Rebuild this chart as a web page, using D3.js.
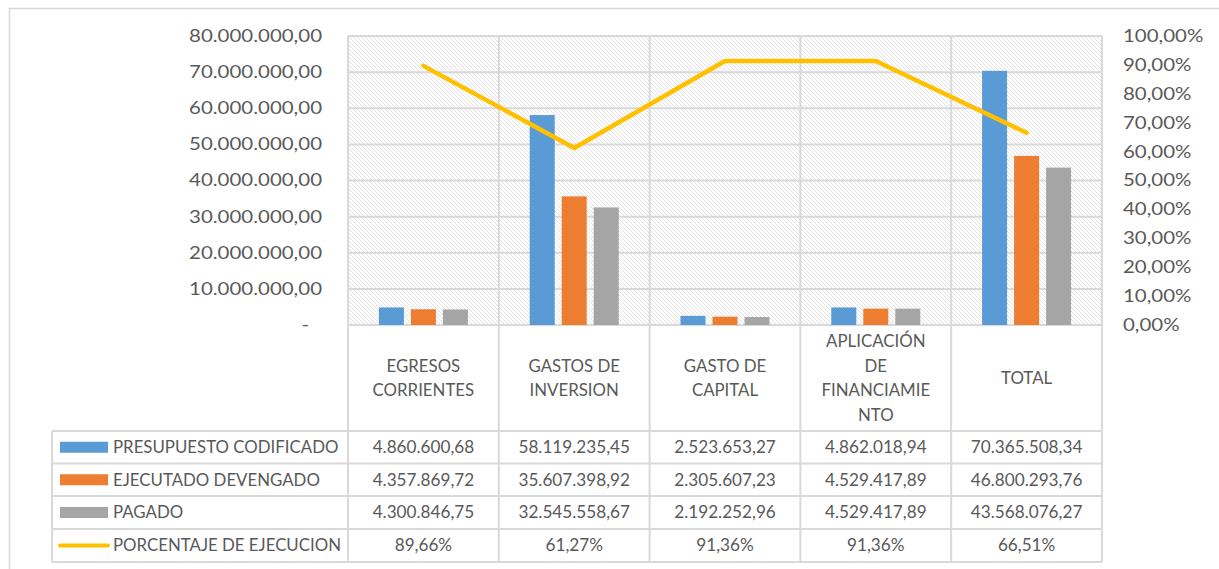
<!DOCTYPE html>
<html><head><meta charset="utf-8">
<script src="https://cdn.jsdelivr.net/npm/d3@7"></script>
<style>html,body{margin:0;padding:0;background:#fff;}svg{display:block;}</style>
</head><body>
<script>
// ---- data ----
const categories = [["EGRESOS","CORRIENTES"],["GASTOS DE","INVERSION"],["GASTO DE","CAPITAL"],["APLICACIÓN","DE","FINANCIAMIE","NTO"],["TOTAL"]];
const seriesNames = ["PRESUPUESTO CODIFICADO","EJECUTADO DEVENGADO","PAGADO","PORCENTAJE DE EJECUCION"];
const presupuesto = [4860600.68, 58119235.45, 2523653.27, 4862018.94, 70365508.34];
const ejecutado   = [4357869.72, 35607398.92, 2305607.23, 4529417.89, 46800293.76];
const pagado      = [4300846.75, 32545558.67, 2192252.96, 4529417.89, 43568076.27];
const porcentaje  = [89.66, 61.27, 91.36, 91.36, 66.51];
const leftTicks  = [0,10000000,20000000,30000000,40000000,50000000,60000000,70000000,80000000];
const rightTicks = [0,10,20,30,40,50,60,70,80,90,100];
const colors = ["#5B9BD5","#ED7D31","#A5A5A5","#FFC000"];

// ---- layout ----
const W = 1219, H = 569;
const P = {l:348, r:1102, t:36, b:325};
const tableLeft = 52, rowLines = [431, 463.5, 496, 529, 562];
const gridC = "#d9d9d9", textC = "#595959";
const FONT = "Lato", FS = 16.5, SX_AXIS = 1.24, SX_TXT = 1.02, SX_TAB = 1.04;

const loc = d3.formatLocale({decimal:",", thousands:".", grouping:[3], currency:["",""]});
const fNum = loc.format(",.2f");
const fPct = v => loc.format(",.2f")(v) + "%";

const svg = d3.select("body").append("svg").attr("width", W).attr("height", H)
  .style("font-family", FONT).style("font-size", FS + "px");

const defs = svg.append("defs");
const pat = defs.append("pattern").attr("id","hatch").attr("patternUnits","userSpaceOnUse")
  .attr("width",4).attr("height",4);
pat.append("rect").attr("width",4).attr("height",4).attr("fill","#fff");
pat.append("path").attr("d","M-1,-1 L5,5 M-1,3 L1,5 M3,-1 L5,1")
  .attr("stroke","#e2e2e2").attr("stroke-width",1);

// outer border
svg.append("rect").attr("x",9.5).attr("y",8.5).attr("width",1215).attr("height",565)
  .attr("fill","none").attr("stroke",gridC).attr("stroke-width",1.5);

const x = d3.scaleBand().domain(d3.range(categories.length)).range([P.l, P.r]).paddingInner(0).paddingOuter(0);
const y = d3.scaleLinear().domain([0, 80000000]).range([P.b, P.t]);
const yR = d3.scaleLinear().domain([0, 100]).range([P.b, P.t]);
const groupW = 89;
const x1 = d3.scaleBand().domain([0,1,2]).range([0, groupW]).paddingInner(7/32);

function txt(g, px, py, s, anchor, sx) {
  return g.append("text").attr("transform", `translate(${px},${py}) scale(${sx},1)`)
    .attr("text-anchor", anchor || "middle").attr("dy","0.36em")
    .attr("fill", textC).text(s);
}

// plot background hatch
svg.append("rect").attr("x",P.l).attr("y",P.t).attr("width",P.r-P.l).attr("height",P.b-P.t)
  .attr("fill","url(#hatch)");

// horizontal gridlines
svg.append("g").selectAll("line").data(leftTicks).join("line")
  .attr("x1",P.l).attr("x2",P.r).attr("y1",d=>y(d)).attr("y2",d=>y(d))
  .attr("stroke",gridC).attr("stroke-width",2);

// vertical lines (category boundaries through table)
const bounds = d3.range(categories.length+1).map(i => i < categories.length ? x(i) : x(categories.length-1)+x.bandwidth());
svg.append("g").selectAll("line").data(bounds).join("line")
  .attr("x1",d=>d).attr("x2",d=>d).attr("y1",P.t).attr("y2",rowLines[rowLines.length-1])
  .attr("stroke",gridC).attr("stroke-width",2);

// table horizontal lines
svg.append("g").selectAll("line").data(rowLines).join("line")
  .attr("x1",tableLeft).attr("x2",P.r).attr("y1",d=>d).attr("y2",d=>d)
  .attr("stroke",gridC).attr("stroke-width",2);
svg.append("line").attr("x1",tableLeft).attr("x2",tableLeft).attr("y1",rowLines[0]).attr("y2",rowLines[rowLines.length-1])
  .attr("stroke",gridC).attr("stroke-width",2);

// bars
const barSeries = [presupuesto, ejecutado, pagado];
barSeries.forEach((vals, si) => {
  svg.append("g").selectAll("rect").data(vals).join("rect")
    .attr("x",(d,i)=> x(i) + (x.bandwidth()-groupW)/2 + x1(si))
    .attr("width", x1.bandwidth())
    .attr("y", d=>y(d)).attr("height", d=>y(0)-y(d))
    .attr("fill", colors[si]);
});

// line
const line = d3.line().x((d,i)=>x(i)+x.bandwidth()/2).y(d=>yR(d));
svg.append("path").datum(porcentaje).attr("d",line).attr("fill","none")
  .attr("stroke",colors[3]).attr("stroke-width",4.5).attr("stroke-linejoin","round").attr("stroke-linecap","round");

// left axis labels
const gL = svg.append("g");
leftTicks.forEach(t => {
  if (t === 0) txt(gL, 309, y(t), "-", "end", SX_AXIS);
  else txt(gL, 322, y(t), fNum(t), "end", SX_AXIS);
});

// right axis labels
const gR = svg.append("g");
rightTicks.forEach(t => txt(gR, 1123, yR(t), fPct(t), "start", SX_AXIS));

// category labels
const gC = svg.append("g");
const headerMid = (P.b + rowLines[0]) / 2;
const lh = 24.5;
categories.forEach((lines, i) => {
  const cx = x(i) + x.bandwidth()/2;
  const y0 = headerMid - (lines.length-1)*lh/2;
  lines.forEach((s, j) => txt(gC, cx, y0 + j*lh, s, "middle", SX_TXT));
});

// table rows
const rowVals = [presupuesto, ejecutado, pagado, porcentaje];
const gT = svg.append("g");
rowVals.forEach((vals, ri) => {
  const cy = (rowLines[ri] + rowLines[ri+1]) / 2;
  if (ri < 3) {
    gT.append("rect").attr("x",60).attr("y",cy-5.5).attr("width",48).attr("height",11).attr("fill",colors[ri]);
  } else {
    gT.append("line").attr("x1",60).attr("x2",108).attr("y1",cy).attr("y2",cy)
      .attr("stroke",colors[3]).attr("stroke-width",4).attr("stroke-linecap","round");
  }
  txt(gT, 113, cy, seriesNames[ri], "start", SX_TXT);
  vals.forEach((v, ci) => {
    txt(gT, x(ci) + x.bandwidth()/2, cy, ri === 3 ? fPct(v) : fNum(v), "middle", SX_TAB);
  });
});
</script>
</body></html>
